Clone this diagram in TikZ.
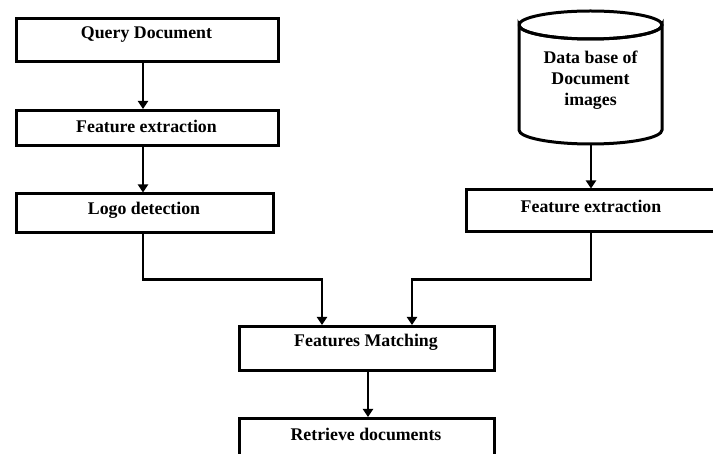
\documentclass[tikz,border=0pt]{standalone}
\usepackage{fontspec}
\setmainfont{Liberation Serif}
\usetikzlibrary{arrows.meta}
\begin{document}
\begin{tikzpicture}[x=1pt,y=-1pt,
  box/.style={draw=black,line width=3pt,fill=white,inner sep=0pt},
  lbl/.style={font=\fontsize{17.8}{21}\selectfont\bfseries,inner sep=0pt,align=center},
  arr/.style={line width=2.6pt,-{Triangle[length=8pt,width=10pt]}},
  link/.style={line width=2.6pt}]
\useasboundingbox (0,0) rectangle (713,454);
\clip (0,0) rectangle (713,454);
\fill[white] (0,0) rectangle (713,454);

% left column
\node[box,minimum width=262pt,minimum height=43pt] (q) at (147,40.5) {};
\node[lbl] (qt) at (146.5,35) {Query Document};
\node[box,minimum width=262pt,minimum height=35.5pt] (fe1) at (147,128.25) {};
\node[lbl] (fe1t) at (146.5,126) {Feature extraction};
\node[box,minimum width=257pt,minimum height=39pt] (ld) at (144.5,213.5) {};
\node[lbl] (ldt) at (144,210) {Logo detection};

% database cylinder
\draw[line width=3pt,fill=white]
  (519,25) -- (519,130) arc[start angle=180,end angle=360,x radius=71.5,y radius=-14]
  -- (662,25) arc[start angle=0,end angle=-180,x radius=71.5,y radius=-14] -- cycle;
\draw[line width=3pt] (519,25) arc[start angle=180,end angle=540,x radius=71.5,y radius=14];
\coordinate (db) at (591,144);
\node[lbl] (dbt) at (590.5,80) {Data base of\\Document\\images};

% right column
\node[box,minimum width=249pt,minimum height=42pt] (fe2) at (590.5,211) {};
\node[lbl] (fe2t) at (591,206.5) {Feature extraction};

% bottom
\node[box,minimum width=255pt,minimum height=44pt] (fm) at (366.5,348.5) {};
\node[lbl] (fmt) at (366,342.5) {Features Matching};
\node[box,minimum width=255pt,minimum height=52pt] (rd) at (366.5,444.5) {};
\node[lbl] (rdt) at (366,434) {Retrieve documents};

\coordinate (jl) at (143,279.5);
\coordinate (jr) at (591,279.5);

% connectors
\draw[arr] ([xshift=-4pt]q.south) -- ([xshift=-4pt]fe1.north);
\draw[arr] ([xshift=-4pt]fe1.south) -- ([xshift=-4pt]fe1.south |- ld.north);
\draw[arr] (db) -- (db |- fe2.north);
\draw[arr] ([xshift=-1.5pt]ld.south) -- (jl) -| ([xshift=-44.5pt]fm.north);
\draw[arr] ([xshift=0.5pt]fe2.south) -- (jr) -| ([xshift=45.5pt]fm.north);
\draw[arr] ([xshift=1.5pt]fm.south) -- ([xshift=1.5pt]rd.north);
\end{tikzpicture}
\end{document}
